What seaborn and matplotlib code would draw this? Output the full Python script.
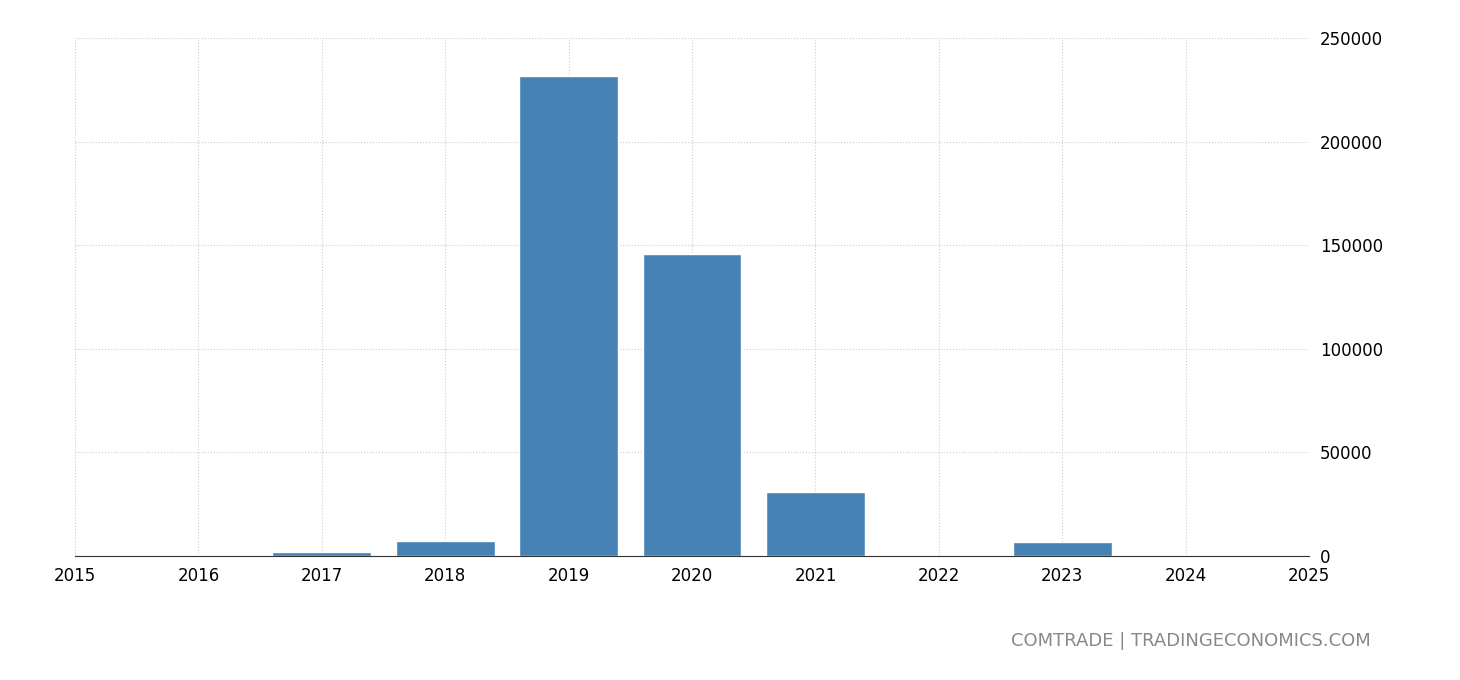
import matplotlib
matplotlib.use("Agg")
import matplotlib.pyplot as plt
import seaborn as sns
import pandas as pd

years = [2016, 2017, 2018, 2019, 2020, 2021, 2022, 2023, 2024]
values = [500, 2000, 7300, 231600, 145800, 31000, 0, 6800, 400]

df = pd.DataFrame({"year": years, "value": values})

sns.set_style("white")
fig = plt.figure(figsize=(14.6, 6.8), dpi=100)
ax = fig.add_axes([0.0514, 0.1824, 0.8452, 0.7616])

sns.barplot(data=df, x="year", y="value", native_scale=True, width=0.8,
            color="#4682b4", saturation=1, ax=ax)

ax.set_xlim(2015, 2025)
ax.set_ylim(0, 250000)
ax.set_xticks(range(2015, 2026))
ax.set_yticks(range(0, 250001, 50000))
ax.yaxis.tick_right()
ax.set_xlabel("")
ax.set_ylabel("")
ax.grid(True, color="#cccccc", linestyle=":", linewidth=0.8)
ax.set_axisbelow(True)
for s in ["top", "right", "left"]:
    ax.spines[s].set_visible(False)
ax.spines["bottom"].set_color("#333333")
ax.tick_params(axis="both", length=0, labelsize=12, colors="#000000", pad=8)

fig.text(0.939, 0.05, "COMTRADE | TRADINGECONOMICS.COM", ha="right",
         fontsize=13, color="#888888")

fig.savefig("out.png", dpi=100)
